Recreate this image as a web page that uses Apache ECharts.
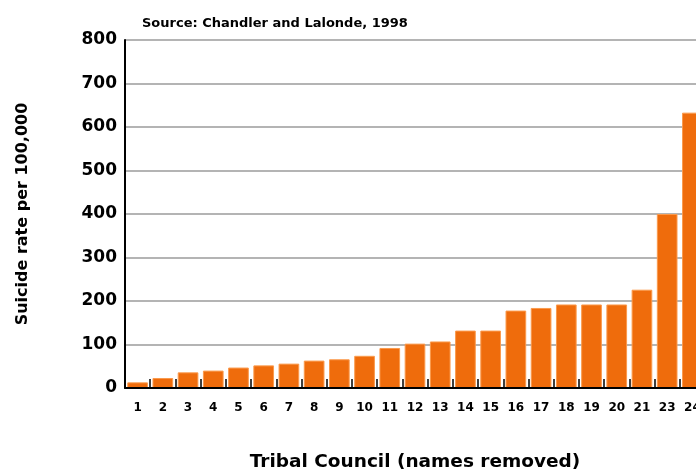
<!DOCTYPE html>
<html>
<head>
<meta charset="utf-8">
<script src="https://cdn.jsdelivr.net/npm/echarts@6/dist/echarts.min.js"></script>
<style>
  html, body { margin: 0; padding: 0; background: #fff; overflow: hidden; }
  #chart { width: 696px; height: 473px; }
</style>
</head>
<body>
<div id="chart"></div>
<script>
// tribal councils (names removed), 22 is missing in the source
const councils = ['1', '2', '3', '4', '5', '6', '7', '8', '9', '10', '11', '12',
  '13', '14', '15', '16', '17', '18', '19', '20', '21', '23', '24']
// suicide rate per 100,000
const rates = [13, 23, 36, 40, 47, 52, 56, 63, 66, 74, 92, 102,
  107, 132, 132, 178, 184, 192, 192, 192, 226, 400, 633]
const yTicks = { min: 0, max: 800, interval: 100 }

const font = 'DejaVu Sans'
const chart = echarts.init(document.getElementById('chart'))
const option = {
  animation: false,
  title: {
    text: 'Source: Chandler and Lalonde, 1998',
    left: 137,
    top: 12,
    textStyle: { fontFamily: font, fontSize: 13, fontWeight: 'bold', color: '#000' },
  },
  // the plot runs past the right edge of the picture (last bar is cut off)
  grid: {
    left: 125,
    width: 580,
    top: 40,
    bottom: 85,
    containLabel: false,
    outerBoundsMode: 'none',
  },
  xAxis: {
    type: 'category',
    data: councils,
    z: 5,
    name: 'Tribal Council (names removed)',
    nameLocation: 'middle',
    nameGap: 65,
    nameTextStyle: { fontFamily: font, fontSize: 18.5, fontWeight: 'bold', color: '#000' },
    axisLine: { lineStyle: { color: '#000', width: 2 } },
    axisTick: { show: true, inside: true, length: 9, lineStyle: { color: '#000', width: 1.5 } },
    axisLabel: { margin: 14, fontFamily: font, fontSize: 12, fontWeight: 'bold', color: '#000' },
  },
  yAxis: {
    type: 'value',
    min: yTicks.min,
    max: yTicks.max,
    interval: yTicks.interval,
    name: 'Suicide rate per 100,000',
    nameLocation: 'middle',
    nameGap: 94,
    nameTextStyle: { fontFamily: font, fontSize: 16, fontWeight: 'bold', color: '#000' },
    axisLine: { show: true, lineStyle: { color: '#000', width: 2 } },
    axisTick: { show: false },
    axisLabel: { margin: 8, fontFamily: font, fontSize: 17, fontWeight: 'bold', color: '#000' },
    splitLine: { lineStyle: { color: '#b4b4b4', width: 2 } },
  },
  series: [
    {
      type: 'bar',
      data: rates,
      barCategoryGap: '18%',
      itemStyle: {
        color: '#ef6c0c',
        borderColor: '#fb9a4c',
        borderWidth: 1,
      },
    },
  ],
}
chart.setOption(option)
</script>
</body>
</html>
